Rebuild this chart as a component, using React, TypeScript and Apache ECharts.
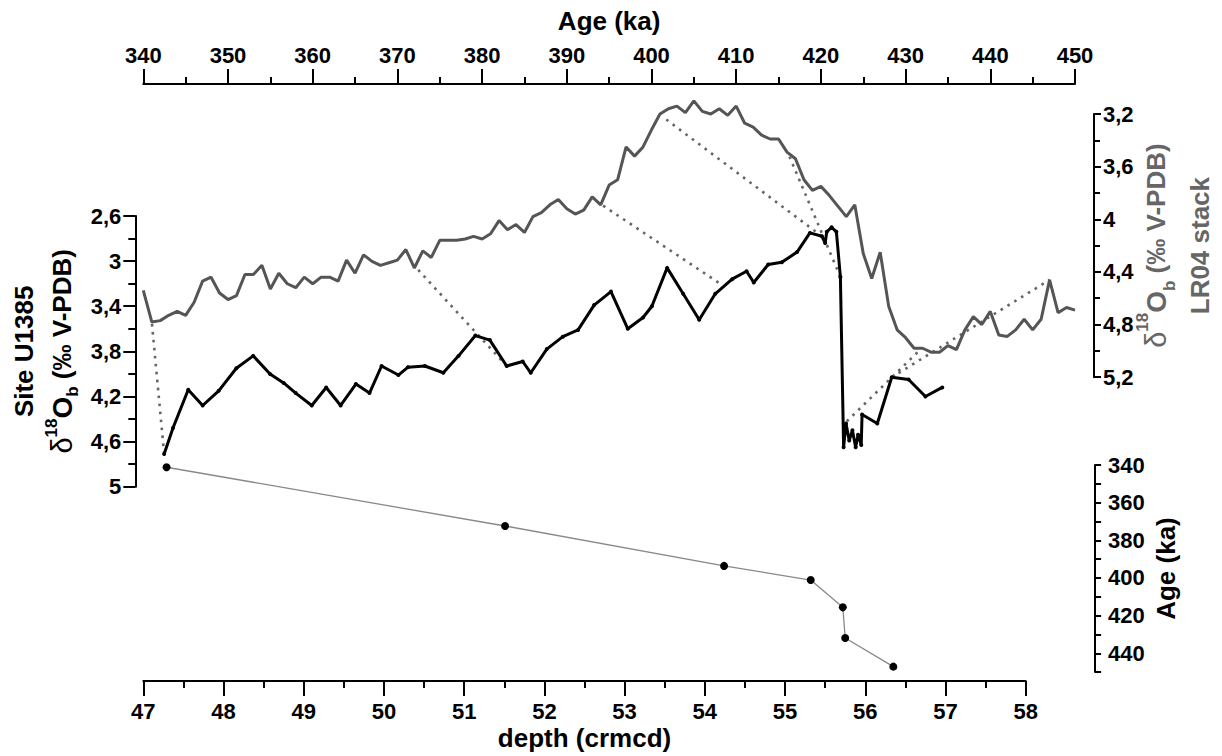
import React, { useEffect, useRef } from 'react';
import * as echarts from 'echarts';

// LR04 benthic stack (age ka, d18O permil)
const lr04Age = [
  340, 341, 342, 343, 344, 345, 346, 347, 348, 349, 350, 351, 352, 353, 354, 355, 356, 357, 358, 359,
  360, 361, 362, 363, 364, 365, 366, 367, 368, 369, 370, 371, 372, 373, 374, 375, 376, 377, 378, 379,
  380, 381, 382, 383, 384, 385, 386, 387, 388, 389, 390, 391, 392, 393, 394, 395, 396, 397, 398, 399,
  400, 401, 402, 403, 404, 405, 406, 407, 408, 409, 410, 411, 412, 413, 414, 415, 416, 417, 418, 419,
  420, 421, 422, 423, 424, 425, 426, 427, 428, 429, 430, 431, 432, 433, 434, 435, 436, 437, 438, 439,
  440, 441, 442, 443, 444, 445, 446, 447, 448, 449, 450,
];
const lr04Value = [
  4.54, 4.78, 4.77, 4.73, 4.70, 4.73, 4.63, 4.47, 4.44, 4.56, 4.61, 4.58, 4.42, 4.42, 4.35, 4.53, 4.41, 4.49, 4.52, 4.44,
  4.49, 4.44, 4.44, 4.47, 4.31, 4.41, 4.27, 4.32, 4.35, 4.33, 4.31, 4.23, 4.37, 4.24, 4.29, 4.16, 4.16, 4.16, 4.15, 4.13,
  4.15, 4.11, 4.01, 4.08, 4.04, 4.10, 3.98, 3.95, 3.89, 3.85, 3.92, 3.96, 3.93, 3.83, 3.89, 3.74, 3.70, 3.45, 3.52, 3.45,
  3.32, 3.20, 3.16, 3.14, 3.19, 3.10, 3.18, 3.20, 3.16, 3.21, 3.14, 3.27, 3.30, 3.36, 3.39, 3.39, 3.49, 3.54, 3.70, 3.78,
  3.75, 3.82, 3.90, 3.98, 3.89, 4.26, 4.45, 4.25, 4.66, 4.84, 4.90, 4.98, 4.98, 5.01, 5.01, 4.96, 4.99, 4.84, 4.74, 4.80,
  4.70, 4.88, 4.89, 4.84, 4.76, 4.84, 4.76, 4.46, 4.71, 4.67, 4.69,
];

// Site U1385 benthic d18O (depth crmcd, d18O permil)
const u1385Depth = [
  47.26, 47.37, 47.56, 47.74, 47.94, 48.16, 48.37, 48.58, 48.75, 48.90, 49.10, 49.28, 49.46, 49.65, 49.82,
  49.97, 50.18, 50.30, 50.51, 50.74, 50.93, 51.14, 51.32, 51.53, 51.73, 51.83, 52.03, 52.23, 52.42, 52.62,
  52.83, 53.04, 53.23, 53.34, 53.53, 53.73, 53.93, 54.13, 54.34, 54.52, 54.61, 54.79, 54.96, 55.15, 55.31,
  55.46, 55.50, 55.52, 55.58, 55.64, 55.69, 55.73, 55.76, 55.80, 55.84, 55.88, 55.91, 55.95, 55.96, 56.15,
  56.33, 56.54, 56.75, 56.96,
];
const u1385Value = [
  4.71, 4.48, 4.14, 4.28, 4.15, 3.95, 3.84, 4.00, 4.08, 4.17, 4.28, 4.12, 4.28, 4.09, 4.17,
  3.93, 4.01, 3.94, 3.93, 3.99, 3.84, 3.66, 3.70, 3.93, 3.89, 3.99, 3.78, 3.67, 3.61, 3.39,
  3.27, 3.60, 3.50, 3.40, 3.06, 3.29, 3.52, 3.29, 3.16, 3.09, 3.19, 3.03, 3.01, 2.92, 2.75,
  2.78, 2.84, 2.74, 2.70, 2.74, 3.14, 4.65, 4.44, 4.59, 4.50, 4.65, 4.54, 4.63, 4.36, 4.44,
  4.03, 4.05, 4.20, 4.12,
];

// Age-depth tie points
const adDepth = [47.29, 51.51, 54.24, 55.32, 55.72, 55.75, 56.35];
const adAge = [341.2, 372.4, 393.6, 401.1, 415.6, 431.9, 447.1];

// Dotted correlation lines: U1385 end and LR04 end
const tieDepth = [47.26, 51.53, 54.17, 55.46, 55.69, 55.77, 56.33];
const tieU1385 = [4.71, 3.93, 3.19, 2.78, 3.14, 4.42, 4.03];
const tieAge = [341.0, 372.1, 393.9, 401.5, 416.2, 431.9, 447.0];
const tieLR04 = [4.78, 4.36, 3.88, 3.23, 3.51, 4.98, 4.46];

const leftLabels = [2.6, 3, 3.4, 3.8, 4.2, 4.6, 5];

const FONT = '"Liberation Sans", Arial, Helvetica, sans-serif';
const fmt = (v: number) => String(Number(v.toFixed(2))).replace('.', ',');

export default function App() {
  const ref = useRef<HTMLDivElement>(null);
  useEffect(() => {
    const chart = echarts.init(ref.current!, null, { renderer: 'svg' });
    const lbl = { fontFamily: FONT, fontSize: 22, fontWeight: 'bold' as const, color: '#000' };
    const axLine = { show: true, onZero: false, lineStyle: { color: '#000', width: 2 } };
    const tickStyle = { color: '#000', width: 2 };
    const grey = '#666';
    const richBlack = {
      t: { fontFamily: FONT, fontSize: 26, fontWeight: 'bold', color: '#000', lineHeight: 38, verticalAlign: 'middle' },
      d: { fontFamily: FONT, fontSize: 29, fontWeight: 'normal', color: '#000', lineHeight: 38, verticalAlign: 'middle' },
      sup: { fontFamily: FONT, fontSize: 17, fontWeight: 'bold', color: '#000', lineHeight: 22, verticalAlign: 'top' },
      o: { fontFamily: FONT, fontSize: 28, fontWeight: 'bold', color: '#000', lineHeight: 38, verticalAlign: 'middle' },
      sub: { fontFamily: FONT, fontSize: 17, fontWeight: 'bold', color: '#000', lineHeight: 22, verticalAlign: 'bottom' },
    };
    const richGrey: any = {};
    Object.keys(richBlack).forEach((k) => {
      richGrey[k] = { ...(richBlack as any)[k], color: grey, lineHeight: (richBlack as any)[k].lineHeight === 38 ? 44 : 24 };
    });

    const option: any = {
      animation: false,
      backgroundColor: '#fff',
      grid: [
        { left: 143.3, top: 216, width: 882.4, height: 270.7, containLabel: false, outerBoundsMode: 'none' },
        { left: 143.3, top: 114, width: 931.7, height: 263.2, containLabel: false, outerBoundsMode: 'none' },
        { left: 143.3, top: 465, width: 882.4, height: 207.1, containLabel: false, outerBoundsMode: 'none' },
      ],
      xAxis: [
        { type: 'value', gridIndex: 0, min: 47, max: 58, show: false, splitLine: { show: false } },
        {
          type: 'value', gridIndex: 1, position: 'top', offset: 30, min: 340, max: 450, interval: 10,
          axisLine: axLine,
          axisTick: { show: true, length: 15, lineStyle: tickStyle },
          minorTick: { show: true, splitNumber: 2, length: 7, lineStyle: tickStyle },
          axisLabel: { ...lbl, margin: 18 },
          splitLine: { show: false }, minorSplitLine: { show: false },
          name: 'Age (ka)', nameLocation: 'middle', nameGap: 50, nameMoveOverlap: false,
          nameTextStyle: { fontFamily: FONT, fontSize: 26, fontWeight: 'bold', color: '#000' },
        },
        {
          type: 'value', gridIndex: 2, position: 'bottom', offset: 9, min: 47, max: 58, interval: 1,
          axisLine: axLine,
          axisTick: { show: true, length: 15, lineStyle: tickStyle },
          minorTick: { show: true, splitNumber: 2, length: 7, lineStyle: tickStyle },
          axisLabel: { ...lbl, margin: 19 },
          splitLine: { show: false }, minorSplitLine: { show: false },
          name: 'depth (crmcd)', nameLocation: 'middle', nameGap: 44, nameMoveOverlap: false,
          nameTextStyle: { fontFamily: FONT, fontSize: 26, fontWeight: 'bold', color: '#000' },
        },
      ],
      yAxis: [
        {
          type: 'value', gridIndex: 0, position: 'left', offset: 8, inverse: true, min: 2.6, max: 5, interval: 0.2,
          axisLine: axLine,
          axisTick: { show: true, length: 7, lineStyle: tickStyle },
          axisLabel: { ...lbl, margin: 14, customValues: leftLabels, formatter: (v: number) => fmt(v) },
          splitLine: { show: false },
          name: '{t|Site U1385}\n{d|δ}{sup|18}{o|O}{sub|b}{t| (‰ V-PDB)}',
          nameLocation: 'middle', nameRotate: 90, nameGap: 54, nameMoveOverlap: false,
          nameTextStyle: { rich: richBlack },
        },
        {
          type: 'value', gridIndex: 0, position: 'left', offset: 8, inverse: true, min: 2.6, max: 5, interval: 0.2,
          axisLine: { show: false },
          axisTick: { show: true, length: 12, lineStyle: tickStyle, customValues: leftLabels },
          axisLabel: { show: false },
          splitLine: { show: false },
        },
        {
          type: 'value', gridIndex: 1, position: 'right', offset: 19, inverse: true, min: 3.2, max: 5.2, interval: 0.4,
          axisLine: axLine,
          axisTick: { show: true, length: 7, lineStyle: tickStyle },
          minorTick: { show: true, splitNumber: 2, length: 6, lineStyle: tickStyle },
          axisLabel: { ...lbl, margin: 9, formatter: (v: number) => fmt(v) },
          splitLine: { show: false }, minorSplitLine: { show: false },
          name: '{d|δ}{sup|18}{o|O}{sub|b}{t| (‰ V-PDB)}\n{t|LR04 stack}',
          nameLocation: 'middle', nameRotate: 90, nameGap: 40, nameMoveOverlap: false,
          nameTextStyle: { rich: richGrey },
        },
        {
          type: 'value', gridIndex: 2, position: 'right', offset: 69.4, inverse: true, min: 340, max: 450, interval: 10,
          axisLine: axLine,
          axisTick: { show: true, length: 6, lineStyle: tickStyle },
          axisLabel: { ...lbl, margin: 13, formatter: (v: number) => (v % 20 === 0 ? String(v) : '') },
          splitLine: { show: false },
          name: 'Age (ka)', nameLocation: 'middle', nameRotate: 90, nameGap: 58, nameMoveOverlap: false,
          nameTextStyle: { fontFamily: FONT, fontSize: 26, fontWeight: 'bold', color: '#000' },
        },
      ],
      series: [
        {
          name: 'LR04', type: 'line', xAxisIndex: 1, yAxisIndex: 2, clip: false,
          data: lr04Age.map((a, i) => [a, lr04Value[i]]),
          showSymbol: false, symbol: 'none',
          lineStyle: { color: '#555', width: 3 }, z: 3,
        },
        {
          name: 'U1385', type: 'line', xAxisIndex: 0, yAxisIndex: 0, clip: false,
          data: u1385Depth.map((d, i) => [d, u1385Value[i]]),
          symbol: 'circle', symbolSize: 4, showSymbol: true,
          itemStyle: { color: '#000' },
          lineStyle: { color: '#000', width: 3 }, z: 4,
        },
        {
          name: 'Age-depth', type: 'line', xAxisIndex: 2, yAxisIndex: 3, clip: false,
          data: adDepth.map((d, i) => [d, adAge[i]]),
          symbol: 'circle', symbolSize: 8, showSymbol: true,
          itemStyle: { color: '#000' },
          lineStyle: { color: '#888', width: 1.3 }, z: 4,
        },
      ],
    };
    chart.setOption(option);

    const ties = tieDepth.map((d, i) => {
      const p1 = chart.convertToPixel({ seriesIndex: 1 }, [d, tieU1385[i]]) as number[];
      const p2 = chart.convertToPixel({ seriesIndex: 0 }, [tieAge[i], tieLR04[i]]) as number[];
      return {
        type: 'line', z: 1,
        shape: { x1: p1[0], y1: p1[1], x2: p2[0], y2: p2[1] },
        style: { stroke: '#666', lineWidth: 2.6, lineDash: [2.6, 5.4], lineCap: 'butt' },
      };
    });
    chart.setOption({ graphic: ties });

    return () => chart.dispose();
  }, []);
  return (
    <div
      ref={ref}
      style={{ position: 'fixed', left: 0, top: 0, width: 1222, height: 756, background: '#fff' }}
    />
  );
}
